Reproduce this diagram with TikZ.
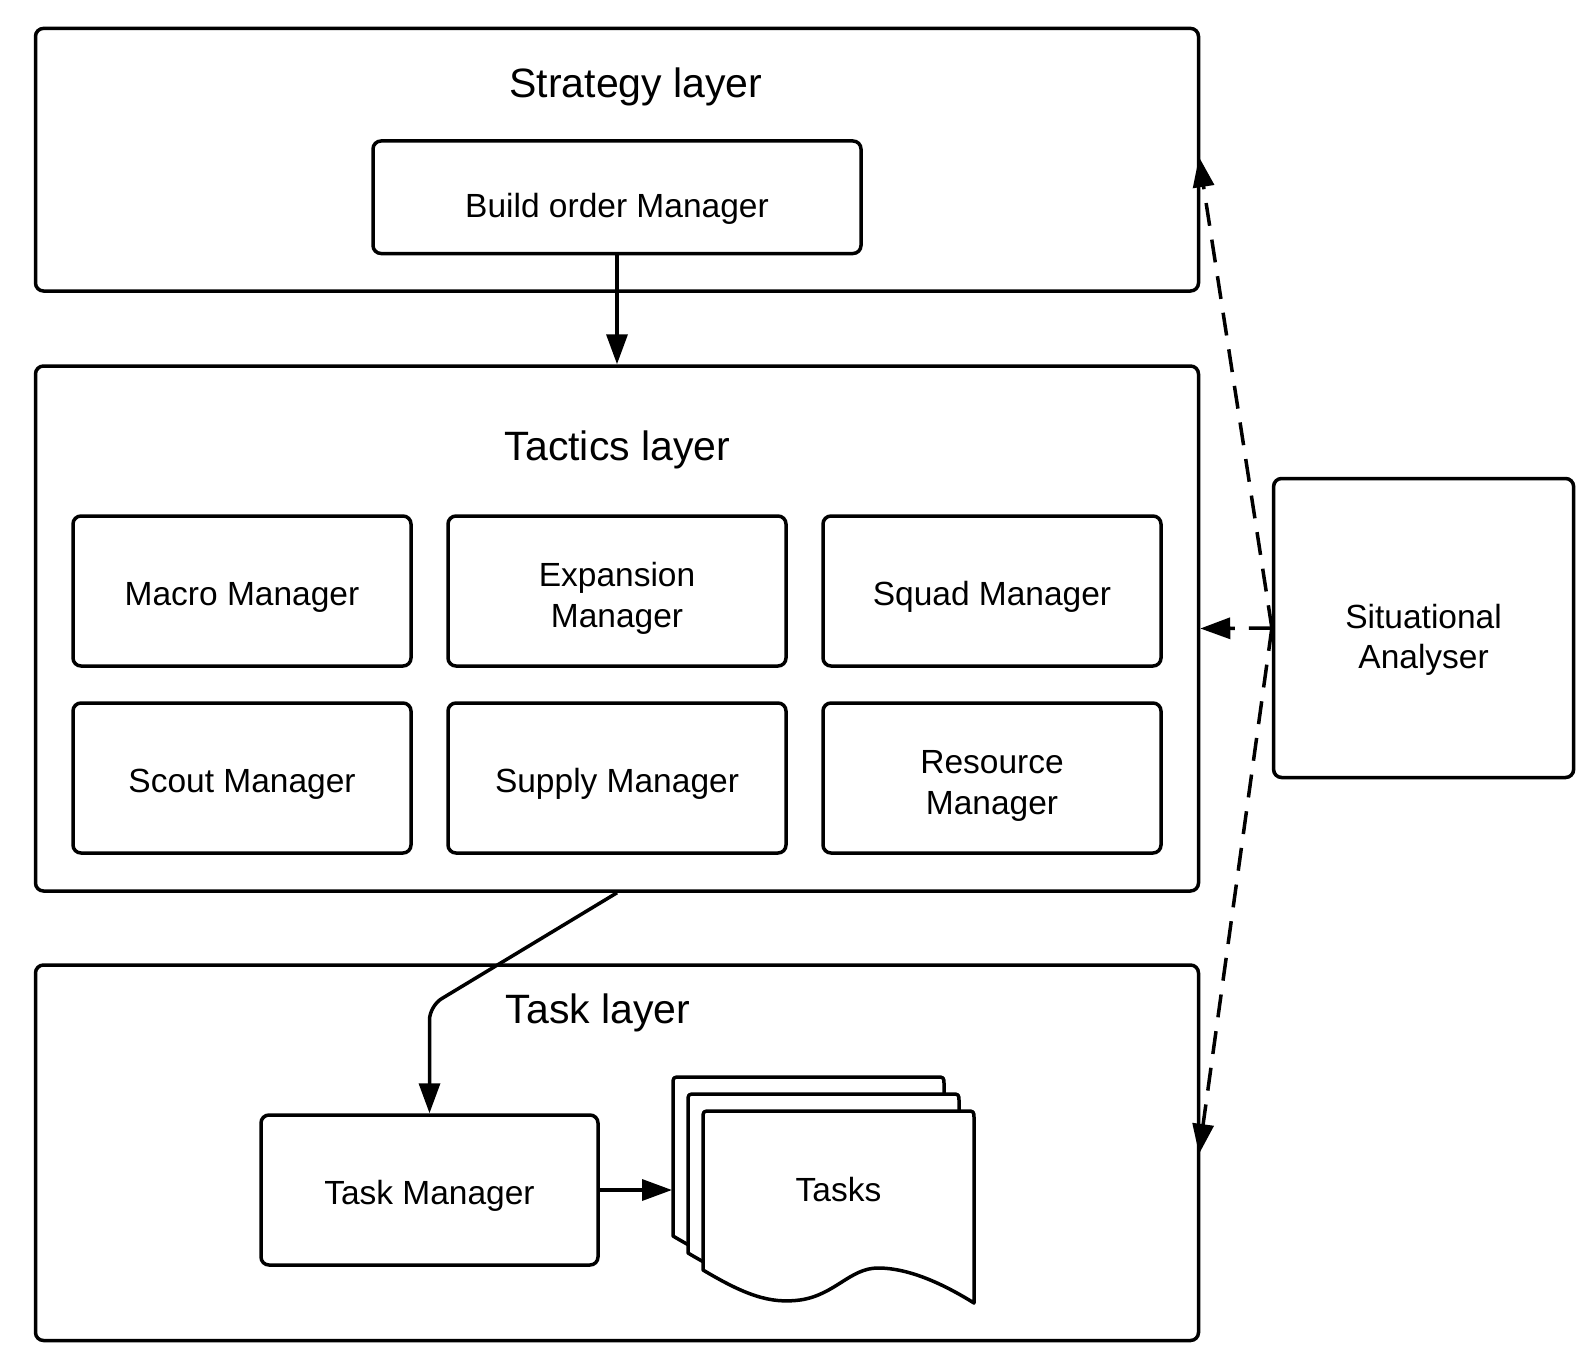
\documentclass[tikz,border=0pt]{standalone}
\usepackage{fontspec}
\setmainfont{Liberation Sans}
\usetikzlibrary{arrows.meta}
\newcommand\taskdoc[2]{%
  \begin{scope}[shift={(#1,#2)}]
    \draw[docline] (0,159) -- (0,8) .. controls (0,0) .. (8,0) -- (263,0) .. controls (271,0) .. (271,8) -- (271,192)
      .. controls (242,174) and (207,157) .. (175,157)
      .. controls (147,157) and (132,184) .. (97,189)
      .. controls (67,193) and (42,184) .. cycle;
  \end{scope}}
\begin{document}
\begin{tikzpicture}[x=1pt,y=-1pt,
  box/.style={draw, line width=3.5pt, rounded corners=8pt, align=center, inner sep=0pt,
    font=\fontsize{33.5}{40.6}\selectfont, text depth=0pt},
  one/.style={text height=29pt},
  two/.style={text height=72.6pt},
  layertitle/.style={font=\fontsize{41}{49}\selectfont, inner sep=0pt},
  docline/.style={draw, line width=3.5pt, fill=white, line join=round},
  arr/.style={line width=3.5pt, -{Triangle[length=30pt,width=21pt]}},
  dasharr/.style={arr, dash pattern=on 23pt off 14pt}]
\useasboundingbox (0,0) rectangle (1590,1359);
% layers
\node[box, minimum width=1163pt, minimum height=262.6pt] (strategy) at (617,159.7) {};
\node[box, minimum width=1163pt, minimum height=525pt] (tactics) at (617,628.5) {};
\node[box, minimum width=1163pt, minimum height=375.5pt] (tasklayer) at (617,1152.75) {};
\node[layertitle] (strategyt) at (636,87) {Strategy layer};
\node[layertitle] (tacticst) at (617.5,450) {Tactics layer};
\node[layertitle] (tasklayert) at (598,1013) {Task layer};
% boxes
\node[box, text height=41pt, minimum width=488pt, minimum height=112.5pt] (build) at (617,197.25) {Build order Manager};
\node[box, one, minimum width=338pt, minimum height=150pt] (macro) at (242,591) {Macro Manager};
\node[box, two, minimum width=338pt, minimum height=150pt] (expansion) at (617,591) {Expansion\\Manager};
\node[box, one, minimum width=338pt, minimum height=150pt] (squad) at (992,591) {Squad Manager};
\node[box, one, minimum width=338pt, minimum height=150pt] (scout) at (242,778) {Scout Manager};
\node[box, one, minimum width=338pt, minimum height=150pt] (supply) at (617,778) {Supply Manager};
\node[box, two, minimum width=338pt, minimum height=150pt] (resource) at (992,778) {Resource\\Manager};
\node[box, one, minimum width=337pt, minimum height=150pt] (taskman) at (429.5,1190) {Task Manager};
\node[box, text height=81.6pt, minimum width=300pt, minimum height=299pt] (sa) at (1423.6,628) {Situational\\Analyser};
% task documents
\taskdoc{673}{1077}
\taskdoc{688}{1094}
\taskdoc{703}{1111}
\node[font=\fontsize{33.5}{40.6}\selectfont, inner sep=0pt] (tasks) at (838.5,1190) {Tasks};
\coordinate (docin) at (672,1190);
% connectors
\draw[arr] (build.south) -- (tactics.north);
\coordinate (bend) at (429.5,1006);
\draw[arr, rounded corners=14pt] (tactics.south) -- (bend) -- (taskman.north);
\draw[arr] (taskman.east) -- (docin);
\coordinate (uptip) at (1199,157);
\coordinate (downtip) at (1199,1154);
\draw[dasharr] (sa.west) -- (uptip);
\draw[dasharr] (sa.west) -- (tactics.east);
\draw[dasharr] (sa.west) -- (downtip);
\end{tikzpicture}
\end{document}
